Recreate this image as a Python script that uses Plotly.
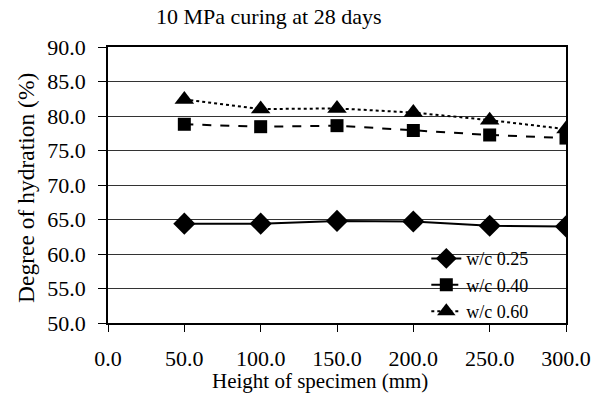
import plotly.graph_objects as go

heights = [50, 100, 150, 200, 250, 300]
wc025 = [64.4, 64.4, 64.8, 64.7, 64.1, 64.0]
wc040 = [78.8, 78.45, 78.6, 77.9, 77.25, 76.8]
wc060 = [82.4, 81.0, 81.1, 80.5, 79.4, 78.1]
x_ticks = [0, 50, 100, 150, 200, 250, 300]
y_ticks = [50, 55, 60, 65, 70, 75, 80, 85, 90]

FONT = "Liberation Serif, Times New Roman, serif"

fig = go.Figure()
fig.add_trace(go.Scatter(x=heights, y=wc025, name="w/c 0.25", mode="lines+markers",
                         line=dict(color="black", width=2),
                         marker=dict(symbol="diamond", size=17, color="black")))
fig.add_trace(go.Scatter(x=heights, y=wc040, name="w/c 0.40", mode="lines+markers",
                         line=dict(color="black", width=2, dash="dash"),
                         marker=dict(symbol="square", size=13, color="black")))
fig.add_trace(go.Scatter(x=heights, y=wc060, name="w/c 0.60", mode="lines+markers",
                         line=dict(color="black", width=2, dash="dot"),
                         marker=dict(symbol="triangle-up", size=17, color="black")))

# white background behind the legend covering gridlines
fig.add_shape(type="rect", xref="x", yref="y", x0=167, x1=292.5, y0=52.8, y1=61.6,
              fillcolor="white", line=dict(width=0), layer="below")

fig.update_layout(
    width=612, height=394,
    margin=dict(l=108, r=46, t=47, b=71),
    paper_bgcolor="white", plot_bgcolor="white",
    font=dict(family=FONT, color="black", size=18),
    showlegend=True,
    legend=dict(x=0.695, y=0.30, xanchor="left", yanchor="top",
                bgcolor="rgba(0,0,0,0)", font=dict(size=18, family=FONT),
                tracegroupgap=0, itemwidth=30),
    annotations=[
        dict(text="10 MPa curing at 28 days", xref="paper", yref="paper",
             x=(268 - 108) / 458, y=1 + (47 - 17) / 276, xanchor="center", yanchor="middle",
             showarrow=False, font=dict(size=22, family=FONT)),
        dict(text="Height of specimen (mm)", xref="paper", yref="paper",
             x=(320 - 108) / 458, y=-(381 - 323) / 276, xanchor="center", yanchor="middle",
             showarrow=False, font=dict(size=21, family=FONT)),
        dict(text="Degree of hydration (%)", xref="paper", yref="paper",
             x=-(108 - 26) / 458, y=(323 - 188) / 276, xanchor="center", yanchor="middle",
             textangle=-90, showarrow=False, font=dict(size=23.5, family=FONT)),
    ],
)
fig.update_xaxes(range=[0, 300], tickvals=x_ticks, tickformat=".1f",
                 showgrid=False, zeroline=False, showline=True, linecolor="black", linewidth=1.5,
                 mirror=True, ticks="outside", ticklen=7, tickcolor="black",
                 tickfont=dict(size=22, family=FONT), ticklabelstandoff=8)
fig.update_yaxes(range=[50, 90], tickvals=y_ticks, tickformat=".1f",
                 showgrid=True, gridcolor="#333333", gridwidth=1, zeroline=False,
                 showline=True, linecolor="black", linewidth=1.5, mirror=True,
                 ticks="outside", ticklen=8, tickcolor="black",
                 tickfont=dict(size=22, family=FONT), ticklabelstandoff=8)

fig.write_html("out.html")
